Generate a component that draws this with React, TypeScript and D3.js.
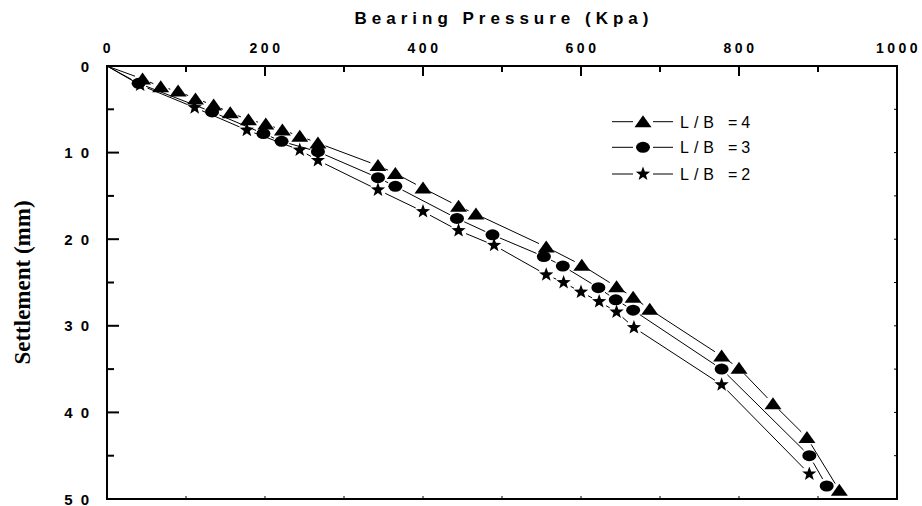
import React, { useRef, useEffect } from 'react'
import * as d3 from 'd3'

// bearing pressure (kPa) / settlement (mm)
const loadLB4 = [0, 45, 68, 90, 112, 135, 156, 179, 201, 222, 244, 267, 343, 365, 400, 445, 467, 556, 601, 645, 666, 687, 778, 800, 843, 886, 927]
const settleLB4 = [0, 1.5, 2.4, 2.9, 3.8, 4.5, 5.4, 6.2, 6.7, 7.4, 8.1, 8.9, 11.5, 12.4, 14.1, 16.2, 17.1, 20.9, 23.0, 25.5, 26.7, 28.1, 33.5, 34.9, 39.0, 42.9, 49.0]

const loadLB3 = [0, 40, 133, 198, 221, 267, 343, 365, 443, 488, 553, 577, 622, 644, 666, 778, 889, 911]
const settleLB3 = [0, 2.0, 5.3, 7.8, 8.7, 9.9, 12.9, 13.9, 17.6, 19.5, 22.0, 23.1, 25.6, 27.0, 28.2, 35.0, 45.0, 48.5]

const loadLB2 = [0, 42, 111, 177, 244, 267, 343, 400, 445, 490, 556, 578, 600, 623, 645, 667, 778, 889]
const settleLB2 = [0, 2.2, 4.8, 7.4, 9.7, 10.9, 14.3, 16.8, 19.0, 20.7, 24.1, 25.0, 26.1, 27.2, 28.4, 30.2, 36.8, 47.1]

const seriesNames = ['L/B', 'L/B', 'L/B']
const seriesRatios = ['=4', '=3', '=2']
const seriesMarkers = ['triangle', 'circle', 'star']

const xTicks = [0, 200, 400, 600, 800, 1000]
const yTicks = [0, 10, 20, 30, 40, 50]

const W = 922
const H = 506

const markerPath = (kind: string) => {
  if (kind === 'triangle') return 'M0,-6.5L8.5,5.5L-8.5,5.5Z'
  if (kind === 'star') {
    const pts: string[] = []
    for (let i = 0; i < 10; i++) {
      const r = i % 2 === 0 ? 7.5 : 3.1
      const a = -Math.PI / 2 + i * Math.PI / 5
      pts.push(`${(r * Math.cos(a)).toFixed(2)},${(r * Math.sin(a)).toFixed(2)}`)
    }
    return 'M' + pts.join('L') + 'Z'
  }
  return null
}

const drawMarker = (g: any, kind: string, cx: number, cy: number) => {
  if (kind === 'circle') {
    g.append('ellipse').attr('cx', cx).attr('cy', cy).attr('rx', 7).attr('ry', 5.5).attr('fill', '#000')
  } else {
    g.append('path').attr('d', markerPath(kind)).attr('transform', `translate(${cx},${cy})`).attr('fill', '#000')
  }
}

const App = () => {
  const container = useRef<SVGSVGElement>(null)

  useEffect(() => {
    const svg = d3.select(container.current)
    svg.selectAll('*').remove()

    const left = 107, right = 897, top = 66, bottom = 499

    const x = d3.scaleLinear().domain([0, 1000]).range([left, right])
    const y = d3.scaleLinear().domain([0, 50]).range([top, bottom])

    const series = [
      { load: loadLB4, settle: settleLB4 },
      { load: loadLB3, settle: settleLB3 },
      { load: loadLB2, settle: settleLB2 },
    ]

    // connecting lines, broken short of each marker like the original
    const gap = 8
    const lines = svg.append('g')
    series.forEach(s => {
      for (let i = 1; i < s.load.length; i++) {
        const x0 = x(s.load[i - 1]), y0 = y(s.settle[i - 1])
        const x1 = x(s.load[i]), y1 = y(s.settle[i])
        const len = Math.hypot(x1 - x0, y1 - y0)
        const g0 = i === 1 ? 0 : gap
        if (len <= g0 + gap + 1) continue
        const ux = (x1 - x0) / len, uy = (y1 - y0) / len
        lines.append('line')
          .attr('x1', x0 + ux * g0).attr('y1', y0 + uy * g0)
          .attr('x2', x1 - ux * gap).attr('y2', y1 - uy * gap)
          .attr('stroke', '#000').attr('stroke-width', 1)
      }
    })

    const marks = svg.append('g')
    series.forEach((s, k) => {
      s.load.forEach((v, i) => {
        if (v === 0) return
        drawMarker(marks, seriesMarkers[k], x(v), y(s.settle[i]))
      })
    })

    // frame
    svg.append('rect')
      .attr('x', left).attr('y', top)
      .attr('width', right - left).attr('height', bottom - top)
      .attr('fill', 'none').attr('stroke', '#000').attr('stroke-width', 2)

    const axis = svg.append('g').attr('stroke', '#000')
    d3.range(0, 1001, 100).forEach(v => {
      const major = v % 200 === 0
      axis.append('line').attr('x1', x(v)).attr('x2', x(v))
        .attr('y1', top).attr('y2', top + (major ? 10 : 6)).attr('stroke-width', 2)
      axis.append('line').attr('x1', x(v)).attr('x2', x(v))
        .attr('y1', bottom).attr('y2', bottom - 3).attr('stroke-width', 1)
    })
    d3.range(0, 51, 5).forEach(v => {
      const major = v % 10 === 0
      axis.append('line').attr('y1', y(v)).attr('y2', y(v))
        .attr('x1', left).attr('x2', left + (major ? 12 : 7)).attr('stroke-width', 2)
      axis.append('line').attr('y1', y(v)).attr('y2', y(v))
        .attr('x1', right).attr('x2', right - 3).attr('stroke-width', 1)
    })

    const tickFont = '"Liberation Sans", Arial, sans-serif'
    svg.append('g').selectAll('text')
      .data(xTicks)
      .enter()
      .append('text')
        .attr('x', d => x(d) + 1.5)
        .attr('y', 53)
        .attr('text-anchor', 'middle')
        .style('font-family', tickFont)
        .style('font-weight', 700)
        .style('font-size', '14px')
        .style('letter-spacing', '3.5px')
        .text(d => d)

    svg.append('g').selectAll('text')
      .data(yTicks)
      .enter()
      .append('text')
        .attr('x', 97)
        .attr('y', d => y(d) + 5.5)
        .attr('text-anchor', 'end')
        .style('font-family', tickFont)
        .style('font-weight', 700)
        .style('font-size', '15px')
        .style('letter-spacing', '8px')
        .text(d => d)

    // axis titles
    svg.append('text')
      .attr('x', (left + right) / 2 + 2)
      .attr('y', 24)
      .attr('text-anchor', 'middle')
      .style('font-family', '"Liberation Sans Narrow", "Arial Narrow", sans-serif')
      .style('font-weight', 700)
      .style('font-size', '17px')
      .style('letter-spacing', '5px')
      .text('Bearing Pressure (Kpa)')

    svg.append('text')
      .attr('transform', `translate(30, ${(top + bottom) / 2}) rotate(-90)`)
      .attr('text-anchor', 'middle')
      .style('font-family', '"Liberation Serif", "Times New Roman", serif')
      .style('font-weight', 700)
      .style('font-size', '23px')
      .text('Settlement (mm)')

    // legend
    const legend = svg.append('g')
    const rowY = [121.7, 147.3, 174]
    seriesMarkers.forEach((kind, k) => {
      const ry = rowY[k]
      legend.append('line').attr('x1', 612).attr('x2', 633).attr('y1', ry).attr('y2', ry).attr('stroke', '#000')
      legend.append('line').attr('x1', 653).attr('x2', 673).attr('y1', ry).attr('y2', ry).attr('stroke', '#000')
      drawMarker(legend, kind, 643, ry)
      legend.append('text')
        .attr('x', 680).attr('y', ry + 6)
        .style('font-family', tickFont)
        .style('font-size', '16px')
        .style('letter-spacing', '5px')
        .text(seriesNames[k])
      legend.append('text')
        .attr('x', 728).attr('y', ry + 6)
        .style('font-family', tickFont)
        .style('font-size', '16px')
        .style('letter-spacing', '4px')
        .text(seriesRatios[k])
    })
  }, [])

  return (
    <svg
      ref={container}
      width={W}
      height={H}
      style={{ position: 'absolute', left: 0, top: 0, background: '#fff' }}
    />
  )
}

export default App
